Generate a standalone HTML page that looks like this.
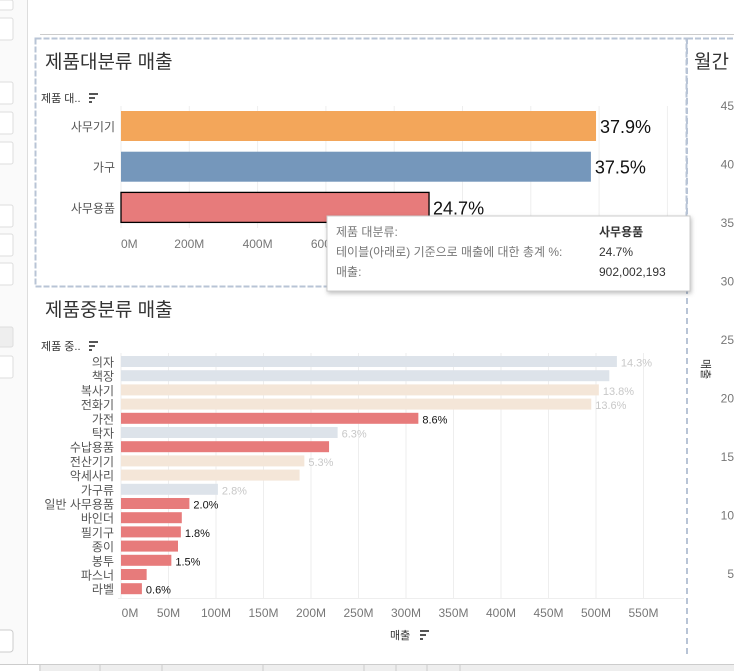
<!DOCTYPE html>
<html><head><meta charset="utf-8"><style>
body{margin:0;width:734px;height:671px;overflow:hidden;background:#fff;font-family:"Liberation Sans","Noto Sans CJK KR",sans-serif}
svg{position:absolute;left:0;top:0}
</style></head><body>
<svg width="734" height="671" font-family="Liberation Sans, Noto Sans CJK KR, sans-serif">
  <g>
    <rect x="0" y="0" width="27" height="664" fill="#fafafa"/>
    <line x1="27.5" y1="0" x2="27.5" y2="664" stroke="#ddd"/>
    <rect x="-5" y="0" width="18" height="10" fill="#fff" stroke="#ddd" rx="2"/>
    <rect x="-5" y="18" width="18" height="22" fill="#fff" stroke="#ddd" rx="2"/>
    <rect x="-5" y="82" width="18" height="22" fill="#fff" stroke="#ddd" rx="2"/>
    <rect x="-5" y="112" width="18" height="22" fill="#fff" stroke="#ddd" rx="2"/>
    <rect x="-5" y="142" width="18" height="22" fill="#fff" stroke="#ddd" rx="2"/>
    <rect x="-5" y="205" width="18" height="22" fill="#fff" stroke="#ddd" rx="2"/>
    <rect x="-5" y="234" width="18" height="22" fill="#fff" stroke="#ddd" rx="2"/>
    <rect x="-5" y="263" width="18" height="22" fill="#fff" stroke="#ddd" rx="2"/>
    <rect x="-5" y="327" width="18" height="20" fill="#eee" stroke="#ddd" rx="2"/>
    <rect x="-5" y="356" width="18" height="22" fill="#fff" stroke="#ddd" rx="2"/>
    <rect x="-5" y="630" width="18" height="22" fill="#fff" stroke="#ccc" rx="3"/>
  </g>
  <g>
    <rect x="0" y="664" width="734" height="7" fill="#eee"/>
    <line x1="0" y1="664.5" x2="734" y2="664.5" stroke="#ccc"/>
    <rect x="0" y="665" width="39" height="6" fill="#fff"/>
    <g stroke="#ccc"><line x1="40" y1="665" x2="40" y2="671"/><line x1="100" y1="665" x2="100" y2="671"/><line x1="162" y1="665" x2="162" y2="671"/><line x1="263" y1="665" x2="263" y2="671"/><line x1="364" y1="665" x2="364" y2="671"/><line x1="396" y1="665" x2="396" y2="671"/><line x1="427" y1="665" x2="427" y2="671"/><line x1="460" y1="665" x2="460" y2="671"/></g>
  </g>
  <line x1="40" y1="34.5" x2="734" y2="34.5" stroke="#ccc"/>
  <rect x="35.5" y="38.5" width="651" height="248" fill="none" stroke="#b8c4d6" stroke-width="2" stroke-dasharray="6,2"/>
  <line x1="687" y1="38" x2="687" y2="655" stroke="#b8c4d6" stroke-width="2" stroke-dasharray="6,4"/>
  <line x1="687" y1="38.5" x2="734" y2="38.5" stroke="#b8c4d6" stroke-width="2" stroke-dasharray="6,2"/>

  <text x="45" y="68" font-size="19" fill="#333">제품대분류 매출</text>
  <text x="41" y="102" font-size="11" fill="#333">제품 대..</text>
  <g fill="#555"><rect x="89" y="93" width="9" height="2"/><rect x="89" y="97" width="6" height="2"/><rect x="89" y="101" width="3" height="2"/></g>
  <g id="top"></g>

  <text x="45" y="316" font-size="19" fill="#333">제품중분류 매출</text>
  <text x="41" y="350" font-size="11" fill="#333">제품 중..</text>
  <g fill="#555"><rect x="89" y="341" width="9" height="2"/><rect x="89" y="345" width="6" height="2"/><rect x="89" y="349" width="3" height="2"/></g>
  <g id="bot"></g>
  <text x="390" y="639" font-size="11" fill="#333">매출</text>
  <g fill="#555"><rect x="420" y="630" width="9" height="2"/><rect x="420" y="634" width="6" height="2"/><rect x="420" y="638" width="3" height="2"/></g>

  <g>
    <text x="694" y="68" font-size="19" fill="#333">월간</text>
    <g id="rt" font-size="12" fill="#777"></g>
    <text x="698" y="369" font-size="11" fill="#333" transform="rotate(90 705 366)">매출</text>
  </g>

  <g>
    <rect x="327" y="216" width="363" height="75" fill="#fff" stroke="#ccc" style="filter:drop-shadow(1px 2px 2px rgba(0,0,0,.25))"/>
    <text x="336" y="236" font-size="12" fill="#777">제품 대분류:</text>
    <text x="599" y="236" font-size="12" font-weight="bold" fill="#333">사무용품</text>
    <text x="336" y="256" font-size="12" fill="#777">테이블(아래로) 기준으로 매출에 대한 총계 %:</text>
    <text x="599" y="256" font-size="12" fill="#333">24.7%</text>
    <text x="336" y="276" font-size="12" fill="#777">매출:</text>
    <text x="599" y="276" font-size="12" fill="#333">902,002,193</text>
  </g>
</svg>
<script>
const NS="http://www.w3.org/2000/svg";
const topCats=["사무기기","가구","사무용품"];
const topVals=[1391,1376,902];
const topPct=["37.9%","37.5%","24.7%"];
const topTicks=[0,200,400,600];
const botCats=["의자","책장","복사기","전화기","가전","탁자","수납용품","전산기기","악세사리","가구류","일반 사무용품","바인더","필기구","종이","봉투","파스너","라벨"];
const botVals=[522,514,503,495,313,228,219,193,188,102,72,64,63,60,53,27,22];
const botGroup=["가구","가구","사무기기","사무기기","사무용품","가구","사무용품","사무기기","사무기기","가구","사무용품","사무용품","사무용품","사무용품","사무용품","사무용품","사무용품"];
const botPct=["14.3%","","13.8%","13.6%","8.6%","6.3%","","5.3%","","2.8%","2.0%","","1.8%","","1.5%","","0.6%"];
const botTicks=[0,50,100,150,200,250,300,350,400,450,500,550];
const rightTicks=[45,40,35,30,25,20,15,10,5];

function mk(t,a,p,txt){const e=document.createElementNS(NS,t);for(const k in a)e.setAttribute(k,a[k]);if(txt!=null)e.textContent=txt;p.appendChild(e);return e;}
const topX=v=>121+v*0.3415, topY=i=>111+i*40.7;
const botX=v=>121+v*0.95, botY=i=>356+i*14.2;
const rY=v=>573-(v-5)*11.7;

const gT=document.getElementById('top');
[800,1000,1200,1400,1600].concat(topTicks).forEach(t=>{
  const l=mk('line',{x1:topX(t),x2:topX(t),y1:106,y2:228,stroke:'#eee'},gT);
  
  
});
topTicks.forEach(t=>{
  const e=mk('text',{x:topX(t),y:248,'font-size':12,fill:'#777','text-anchor':t?'middle':'start'},gT,t+'M');
  
  
});
const topCol={"사무기기":"#f3a65a","가구":"#7597bb","사무용품":"#e77b7b"};
topCats.forEach((c,i)=>{
  const y=topY(i);
  const r=mk('rect',{x:121,y:y,width:topX(topVals[i])-121,height:30,fill:topCol[c]},gT);
  if(c==="사무용품"){r.setAttribute('stroke','#000');r.setAttribute('stroke-width','1.3');}
  
  
  const l=mk('text',{x:115,y:y+20,'font-size':12,fill:'#555','text-anchor':'end'},gT,c);
  
  
  const p=mk('text',{x:topX(topVals[i])+4,y:y+22,'font-size':18,fill:'#111'},gT,topPct[i]);
  
  
});

const gB=document.getElementById('bot');
botTicks.forEach(t=>{
  const l=mk('line',{x1:botX(t),x2:botX(t),y1:353,y2:598,stroke:'#eee'},gB);
  
  
  const e=mk('text',{x:botX(t)+(t?0:9),y:617,'font-size':12,fill:'#777','text-anchor':'middle'},gB,t+'M');
  
  
});
mk('line',{x1:118,x2:684,y1:598.5,y2:598.5,stroke:'#eee'},gB);
const botCol={"가구":"#dde3ea","사무기기":"#f4e6d8","사무용품":"#e77b7b"};
botCats.forEach((c,i)=>{
  const y=botY(i);
  const r=mk('rect',{x:121,y:y,width:botX(botVals[i])-121,height:11,fill:botCol[botGroup[i]]},gB);
  
  
  const l=mk('text',{x:114,y:y+10.5,'font-size':12,fill:'#555','text-anchor':'end'},gB,c);
  
  
  if(botPct[i]){
    const p=mk('text',{x:botX(botVals[i])+4,y:y+10.5,'font-size':11,fill:botGroup[i]==="사무용품"?'#111':'#c8c8c8'},gB,botPct[i]);
    
    
  }
});

const gR=document.getElementById('rt');
rightTicks.forEach(t=>{
  const e=mk('text',{x:734,y:rY(t)+5,'text-anchor':'end'},gR,String(t));
  
  
});
</script>
</body></html>
